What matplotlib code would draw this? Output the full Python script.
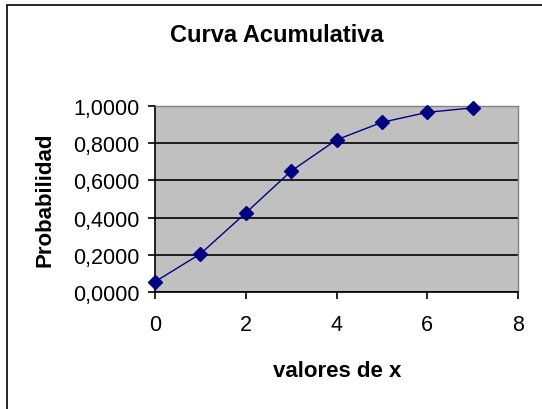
import matplotlib
matplotlib.use("Agg")
import matplotlib.pyplot as plt
from matplotlib.patches import Rectangle
from matplotlib.ticker import FuncFormatter

x_vals = [0, 1, 2, 3, 4, 5, 6, 7]
prob = [0.055, 0.205, 0.425, 0.650, 0.818, 0.912, 0.966, 0.990]
y_ticks = [0.0, 0.2, 0.4, 0.6, 0.8, 1.0]
x_ticks = [0, 2, 4, 6, 8]

plt.rcParams['font.family'] = ['Liberation Sans', 'DejaVu Sans']

fig = plt.figure(figsize=(5.42, 4.10), dpi=100)
W, H = 542, 410
ax = fig.add_axes([155 / W, 1 - 293 / H, (518 - 155) / W, (293 - 107) / H])
ax.set_facecolor('#C0C0C0')

ax.plot(x_vals, prob, color='#000080', linewidth=1.0, marker='D',
        markersize=7.5, markerfacecolor='#000080', markeredgecolor='#000080',
        zorder=3, clip_on=False)

ax.set_xlim(0, 8)
ax.set_ylim(0, 1)
ax.set_xticks(x_ticks)
ax.set_yticks(y_ticks)
ax.yaxis.set_major_formatter(FuncFormatter(lambda v, p: f"{v:.4f}".replace('.', ',')))
ax.grid(axis='y', color='black', linewidth=1.2, zorder=1)
ax.set_axisbelow(True)

for s in ['top', 'right']:
    ax.spines[s].set_color('#808080')
    ax.spines[s].set_linewidth(1.0)
for s in ['left', 'bottom']:
    ax.spines[s].set_color('black')
    ax.spines[s].set_linewidth(1.2)

ax.tick_params(axis='both', direction='out', length=5, width=1.2,
               labelsize=15.5, colors='black')
ax.tick_params(axis='y', pad=6)
ax.tick_params(axis='x', pad=11)

ax.set_xlabel('valores de x', fontsize=16, fontweight='bold')
ax.set_ylabel('Probabilidad', fontsize=16, fontweight='bold')
ax.xaxis.set_label_coords((337 - 155) / (518 - 155), -(372 - 293) / (293 - 107))
ax.yaxis.set_label_coords(-(155 - 45) / (518 - 155), 0.5)
ax.xaxis.label.set_va('center')
ax.yaxis.label.set_va('center')

fig.text(277 / W, 1 - 36 / H, 'Curva Acumulativa', ha='center', va='center',
         fontsize=17, fontweight='bold')

fig.patches.append(Rectangle((7 / W, -0.05), 1.1, 1 - 5.5 / H + 0.05,
                             transform=fig.transFigure, fill=False,
                             edgecolor='black', linewidth=1.2))

fig.savefig('out.png', dpi=100, facecolor='white')
